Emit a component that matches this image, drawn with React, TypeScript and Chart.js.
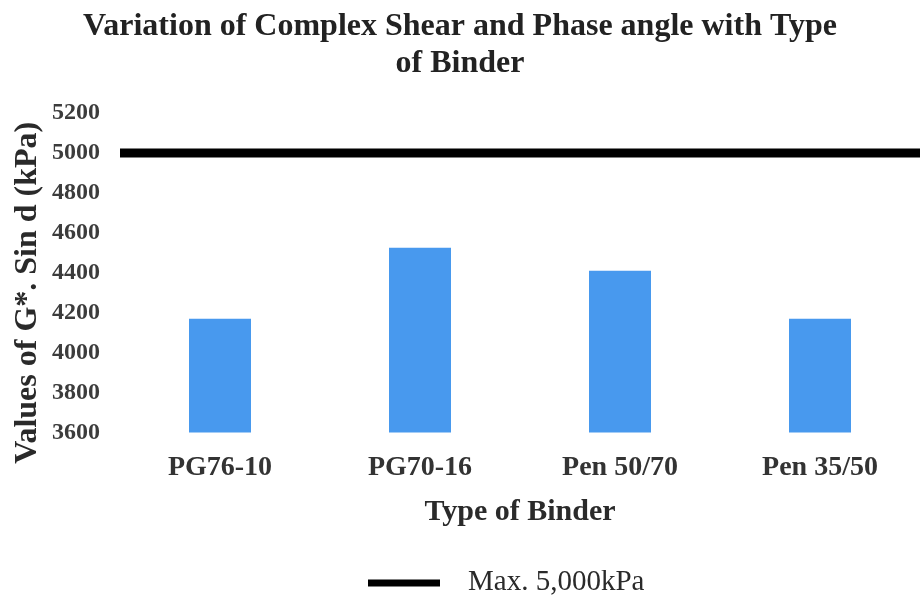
import React, { useEffect, useRef } from "react";
import { Chart, registerables } from "chart.js";

Chart.register(...registerables);

// Binder types and their G*·sin δ values (kPa)
const binders = ["PG76-10", "PG70-16", "Pen 50/70", "Pen 35/50"];
const gStarSinDelta = [4170, 4525, 4410, 4170];

// Specification limit drawn across the whole plot
const limitLabel = "Max. 5,000kPa";
const limitValue = 5000;

// Value axis
const yMin = 3600;
const yMax = 5200;
const yStep = 200;

const titleLines = [
  "Variation of Complex Shear and Phase angle with Type",
  "of Binder",
];
const yTitle = "Values of G*. Sin d (kPa)";
const xTitle = "Type of Binder";

const SERIF = "'Liberation Serif', 'Times New Roman', serif";
const BAR_BLUE = "#4899ee";

// Rotated value-axis title, set slightly below the plot's centre
const yTitlePlugin = {
  id: "yTitleText",
  afterDraw(chart: any) {
    const { ctx, chartArea } = chart;
    ctx.save();
    ctx.translate(28, (chartArea.top + chartArea.bottom) / 2 + 20);
    ctx.rotate(-Math.PI / 2);
    ctx.font = `bold 32px ${SERIF}`;
    ctx.fillStyle = "#2a2a2a";
    ctx.textAlign = "center";
    ctx.textBaseline = "middle";
    ctx.fillText(yTitle, 0, 0);
    ctx.restore();
  },
};

// Legend entry for the limit line, drawn under the axis title
const limitLegendPlugin = {
  id: "limitLegend",
  afterDraw(chart: any) {
    const { ctx } = chart;
    const ds = chart.data.datasets[1];
    const y = 583;
    ctx.save();
    ctx.fillStyle = ds.borderColor;
    ctx.fillRect(368, y - 3.5, 72, 7);
    ctx.font = `29px ${SERIF}`;
    ctx.fillStyle = "#2a2a2a";
    ctx.textAlign = "left";
    ctx.textBaseline = "middle";
    ctx.fillText(ds.label, 468, y - 1);
    ctx.restore();
  },
};

export default function App() {
  const canvasRef = useRef<HTMLCanvasElement | null>(null);

  useEffect(() => {
    if (!canvasRef.current) return;
    const chart = new Chart(canvasRef.current, {
      type: "bar",
      data: {
        labels: binders,
        datasets: [
          {
            type: "bar",
            label: "G*. Sin d",
            data: gStarSinDelta,
            backgroundColor: BAR_BLUE,
            borderWidth: 0,
            barPercentage: 0.31,
            categoryPercentage: 1,
            grouped: false,
            xAxisID: "x",
          } as any,
          {
            type: "line",
            label: limitLabel,
            data: [
              { x: 0, y: limitValue },
              { x: 1, y: limitValue },
            ],
            borderColor: "#000000",
            backgroundColor: "#000000",
            borderWidth: 9,
            pointRadius: 0,
            xAxisID: "xLimit",
          } as any,
        ],
      },
      options: {
        responsive: false,
        animation: false,
        layout: { padding: { left: 0, right: 0, top: 0, bottom: 67 } },
        plugins: {
          legend: { display: false },
          tooltip: { enabled: false },
          title: {
            display: true,
            text: titleLines,
            color: "#222222",
            font: { family: SERIF, size: 32, weight: "bold", lineHeight: 1.15 },
            padding: { top: 8.5, bottom: 31 },
          },
        },
        scales: {
          x: {
            type: "category",
            grid: { display: false, drawTicks: false },
            border: { display: false },
            ticks: {
              color: "#333333",
              font: { family: SERIF, size: 28, weight: "bold" },
              padding: 19,
            },
            title: {
              display: true,
              text: xTitle,
              color: "#2a2a2a",
              font: { family: SERIF, size: 30, weight: "bold" },
              padding: { top: -10, bottom: 0 },
            },
          },
          xLimit: {
            type: "linear",
            display: false,
            offset: false,
            min: 0,
            max: 1,
          },
          y: {
            min: yMin,
            max: yMax,
            grid: { display: false, drawTicks: false },
            border: { display: false },
            ticks: {
              stepSize: yStep,
              color: "#3c3c3c",
              font: { family: SERIF, size: 24, weight: "bold" },
              padding: 20,
              callback: (v: any) => String(v),
            },
            afterFit(scale: any) {
              scale.width = 120;
            },
          },
        },
      },
      plugins: [yTitlePlugin, limitLegendPlugin],
    });
    return () => chart.destroy();
  }, []);

  return (
    <div style={{ position: "absolute", left: 0, top: 0, width: 920, height: 597, background: "#ffffff" }}>
      <canvas ref={canvasRef} width={920} height={597} style={{ display: "block" }} />
    </div>
  );
}
